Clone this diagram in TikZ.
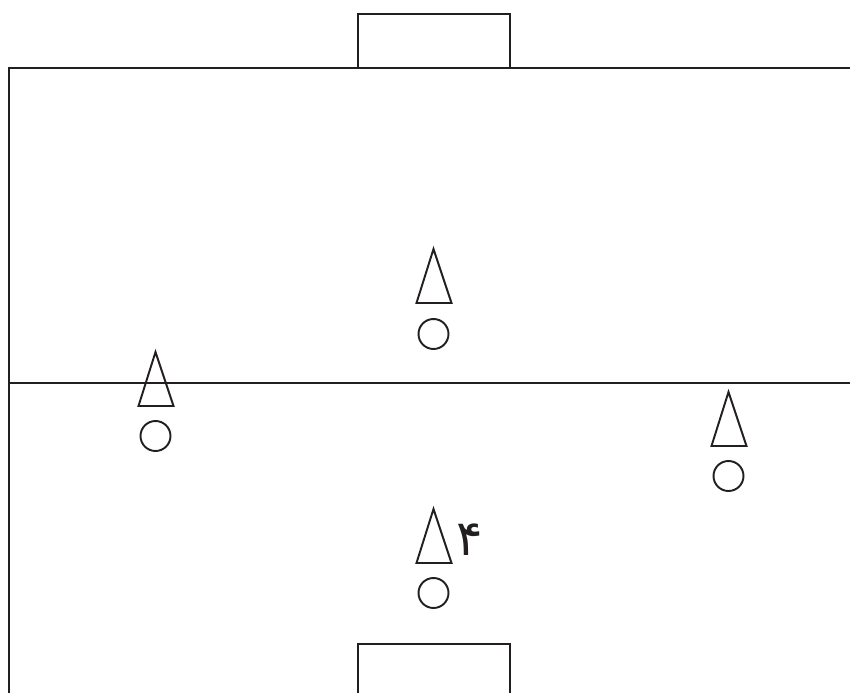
\documentclass[tikz,border=0pt]{standalone}
\usepackage{fontspec}
\newfontfamily\arabicfont[Script=Arabic]{DejaVu Sans}
\definecolor{ink}{HTML}{231F20}
\TeXXeTstate=1
\begin{document}
\begin{tikzpicture}[x=0.02cm, y=-0.02cm, line width=1.1pt, color=ink,
    every node/.style={inner sep=0pt},
    ball/.style={draw, circle, minimum size=0.6cm}]
                \useasboundingbox (0,0) rectangle (850,693);
                % field and goals
                \draw (850,68) -- (9,68) -- (9,693);
                \draw (9,383) -- (850,383);
                \draw (358,68) -- (358,14) -- (510,14) -- (510,68);
                \draw (358,693) -- (358,644) -- (510,644) -- (510,693);

                % cones
                \draw (433.5,249) -- (416.5,303) -- (451.5,303) -- cycle;
                \draw (155.5,352) -- (138.5,406) -- (173.5,406) -- cycle;
                \draw (728.5,392) -- (711.5,446) -- (746.5,446) -- cycle;
                \draw (433.5,509) -- (416.5,563) -- (451.5,563) -- cycle;

                % balls
                \node[ball] (B1) at (433.5,334) {};
                \node[ball] (B2) at (155.5,436) {};
                \node[ball] (B3) at (728.5,476) {};
                \node[ball] (B4) at (433.5,593) {};

                \node (N) at (469.5,540) {\arabicfont\fontsize{28}{28}\selectfont\beginR ۴\endR};
\end{tikzpicture}
\end{document}
